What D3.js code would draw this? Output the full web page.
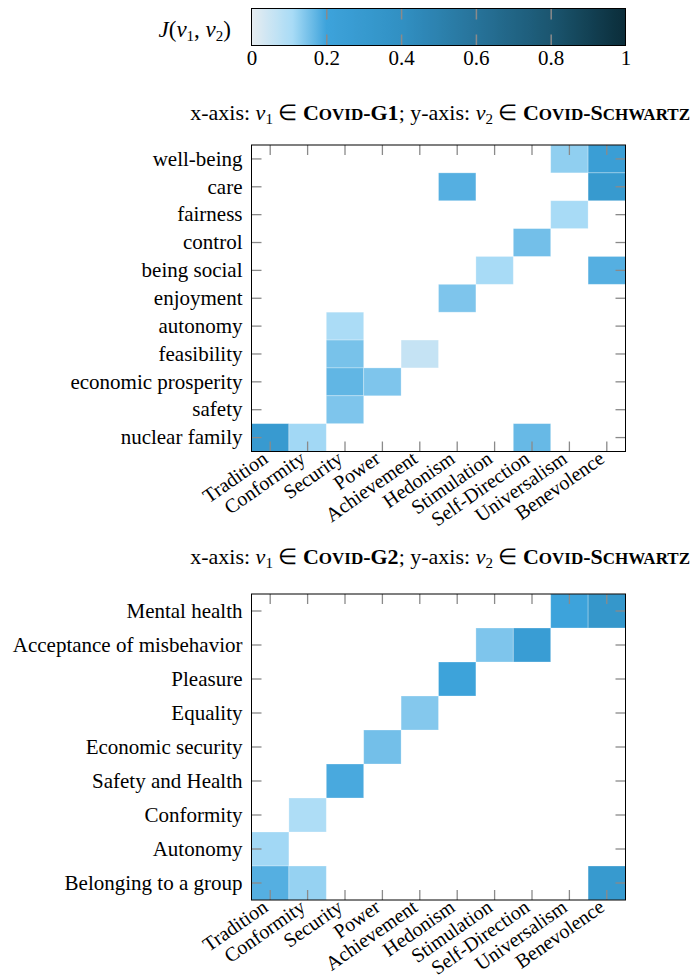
<!DOCTYPE html>
<html><head><meta charset="utf-8">
<script src="https://cdn.jsdelivr.net/npm/d3@7"></script>
<style>
html,body{margin:0;padding:0;background:#fff;}
text{font-family:"Liberation Serif","Times New Roman",serif;fill:#000;}
</style></head>
<body><svg id="c" width="692" height="978"></svg>
<script>
// ---------- data ----------
const schwartz = ["Tradition","Conformity","Security","Power","Achievement","Hedonism","Stimulation","Self-Direction","Universalism","Benevolence"];
const g1Values = ["well-being","care","fairness","control","being social","enjoyment","autonomy","feasibility","economic prosperity","safety","nuclear family"];
const g2Values = ["Mental health","Acceptance of misbehavior","Pleasure","Equality","Economic security","Safety and Health","Conformity","Autonomy","Belonging to a group"];
// [y-label, x-label, J]
const g1Cells = [
  ["well-being","Universalism",0.13],["well-being","Benevolence",0.25],
  ["care","Hedonism",0.18],["care","Benevolence",0.30],
  ["fairness","Universalism",0.11],
  ["control","Self-Direction",0.155],
  ["being social","Stimulation",0.11],["being social","Benevolence",0.18],
  ["enjoyment","Hedonism",0.145],
  ["autonomy","Security",0.105],
  ["feasibility","Security",0.15],["feasibility","Achievement",0.06],
  ["economic prosperity","Security",0.17],["economic prosperity","Power",0.145],
  ["safety","Security",0.145],
  ["nuclear family","Tradition",0.29],["nuclear family","Conformity",0.115],["nuclear family","Self-Direction",0.165]
];
const g2Cells = [
  ["Mental health","Universalism",0.2],["Mental health","Benevolence",0.33],
  ["Acceptance of misbehavior","Stimulation",0.145],["Acceptance of misbehavior","Self-Direction",0.26],
  ["Pleasure","Hedonism",0.205],
  ["Equality","Achievement",0.14],
  ["Economic security","Power",0.155],
  ["Safety and Health","Security",0.19],
  ["Conformity","Conformity",0.10],
  ["Autonomy","Tradition",0.115],
  ["Belonging to a group","Tradition",0.18],["Belonging to a group","Conformity",0.125],["Belonging to a group","Benevolence",0.3]
];
const cbTicks = [0,0.2,0.4,0.6,0.8,1];
const cmapStops = [0,0.11,0.2,0.4,0.6,0.8,1];
const cmapColors = ["#e7edf1","#a8dbf6","#3da3db","#3190c3","#27739a","#1b5670","#0b2d39"];

// ---------- setup ----------
const svg = d3.select("#c");
const color = d3.scaleLinear().domain(cmapStops).range(cmapColors).interpolate(d3.interpolateRgb);
const L = 251.5, R = 625.5;
const tickGray = "#8a8a8a";
const LABEL_FS = 21, XLABEL_FS = 20;

// ---------- colorbar ----------
const cbTop = 8.5, cbBot = 45.5;
const cbx = d3.scaleLinear().domain([0,1]).range([L,R]);
const defs = svg.append("defs");
const grad = defs.append("linearGradient").attr("id","cbgrad").attr("x1","0%").attr("x2","100%");
d3.range(0,1.0001,0.01).forEach(t=>grad.append("stop").attr("offset",(t*100)+"%").attr("stop-color",color(t)));
svg.append("rect").attr("x",L).attr("y",cbTop).attr("width",R-L).attr("height",cbBot-cbTop).attr("fill","url(#cbgrad)");
const cbAxisTop = d3.axisTop(cbx).tickValues(cbTicks).tickSizeInner(-11).tickSizeOuter(0).tickFormat("");
const cbAxisBot = d3.axisBottom(cbx).tickValues(cbTicks).tickSizeInner(-11).tickSizeOuter(0).tickPadding(5).tickFormat(d3.format("~g"));
const gt = svg.append("g").attr("transform",`translate(0,${cbTop})`).call(cbAxisTop);
const gb = svg.append("g").attr("transform",`translate(0,${cbBot})`).call(cbAxisBot);
[gt,gb].forEach(g=>{g.select(".domain").remove();g.selectAll("line").attr("stroke",tickGray).attr("stroke-width",1.5);
  g.selectAll(".tick").filter(d=>d===0||d===1).select("line").remove();});
gb.selectAll("text").attr("font-size",21).attr("font-family","Liberation Serif").attr("fill","#000");
svg.append("rect").attr("x",L).attr("y",cbTop).attr("width",R-L).attr("height",cbBot-cbTop).attr("fill","none").attr("stroke","#000").attr("stroke-width",1);
const jl = svg.append("text").attr("x",231).attr("y",37).attr("text-anchor","end").attr("font-size",23);
jl.append("tspan").attr("font-style","italic").text("J");
jl.append("tspan").text("(");
jl.append("tspan").attr("font-style","italic").text("v");
jl.append("tspan").attr("font-size",15).attr("dy",4).text("1");
jl.append("tspan").attr("dy",-4).text(", ");
jl.append("tspan").attr("font-style","italic").text("v");
jl.append("tspan").attr("font-size",15).attr("dy",4).text("2");
jl.append("tspan").attr("dy",-4).text(")");

// ---------- title helper ----------
function title(y, gname){
  const t = svg.append("text").attr("x",690).attr("y",y).attr("text-anchor","end").attr("font-size",22);
  const small=17, sub=15;
  t.append("tspan").text("x-axis: ");
  t.append("tspan").attr("font-style","italic").text("v");
  t.append("tspan").attr("font-size",sub).attr("dy",4).text("1");
  t.append("tspan").attr("dy",-4).text(" \u2208 ");
  t.append("tspan").attr("font-weight","bold").text("C");
  t.append("tspan").attr("font-weight","bold").attr("font-size",small).text("OVID");
  t.append("tspan").attr("font-weight","bold").text("-"+gname);
  t.append("tspan").text("; y-axis: ");
  t.append("tspan").attr("font-style","italic").text("v");
  t.append("tspan").attr("font-size",sub).attr("dy",4).text("2");
  t.append("tspan").attr("dy",-4).text(" \u2208 ");
  t.append("tspan").attr("font-weight","bold").text("C");
  t.append("tspan").attr("font-weight","bold").attr("font-size",small).text("OVID");
  t.append("tspan").attr("font-weight","bold").text("-S");
  t.append("tspan").attr("font-weight","bold").attr("font-size",small).text("CHWARTZ");
}

// ---------- heatmap helper ----------
function heatmap(top, bottom, yCats, cells){
  const x = d3.scaleBand().domain(schwartz).range([L,R]);
  const y = d3.scaleBand().domain(yCats).range([top,bottom]);
  const g = svg.append("g");
  g.selectAll("rect.cell").data(cells).join("rect").attr("class","cell")
    .attr("x",d=>x(d[1])).attr("y",d=>y(d[0]))
    .attr("width",x.bandwidth()).attr("height",y.bandwidth())
    .attr("fill",d=>color(d[2]))
    .attr("stroke","#ffffff").attr("stroke-opacity",0.35).attr("stroke-width",0.8);
  const styleAxis = sel=>{sel.select(".domain").remove();sel.selectAll("line").attr("stroke",tickGray).attr("stroke-width",1.3);
    sel.selectAll("text").attr("font-size",LABEL_FS).attr("font-family","Liberation Serif").attr("fill","#000");};
  g.append("g").attr("transform",`translate(${L},0)`).call(d3.axisLeft(y).tickSizeInner(-10).tickSizeOuter(0).tickPadding(9)).call(styleAxis);
  g.append("g").attr("transform",`translate(${R},0)`).call(d3.axisRight(y).tickSizeInner(-10).tickSizeOuter(0).tickFormat("")).call(styleAxis);
  g.append("g").attr("transform",`translate(0,${top})`).call(d3.axisTop(x).tickSizeInner(-10).tickSizeOuter(0).tickFormat("")).call(styleAxis);
  const bx = g.append("g").attr("transform",`translate(0,${bottom})`).call(d3.axisBottom(x).tickSizeInner(-10).tickSizeOuter(0).tickPadding(0)).call(styleAxis);
  bx.selectAll("text").attr("text-anchor","end").attr("dy",0).attr("y",0).attr("font-size",XLABEL_FS)
    .attr("transform","translate(-1,10) rotate(-35)");
  g.append("rect").attr("x",L).attr("y",top).attr("width",R-L).attr("height",bottom-top)
    .attr("fill","none").attr("stroke","#000").attr("stroke-width",1);
}

title(120, "G1");
heatmap(145, 451.5, g1Values, g1Cells);
title(564, "G2");
heatmap(594, 900, g2Values, g2Cells);
</script></body></html>
